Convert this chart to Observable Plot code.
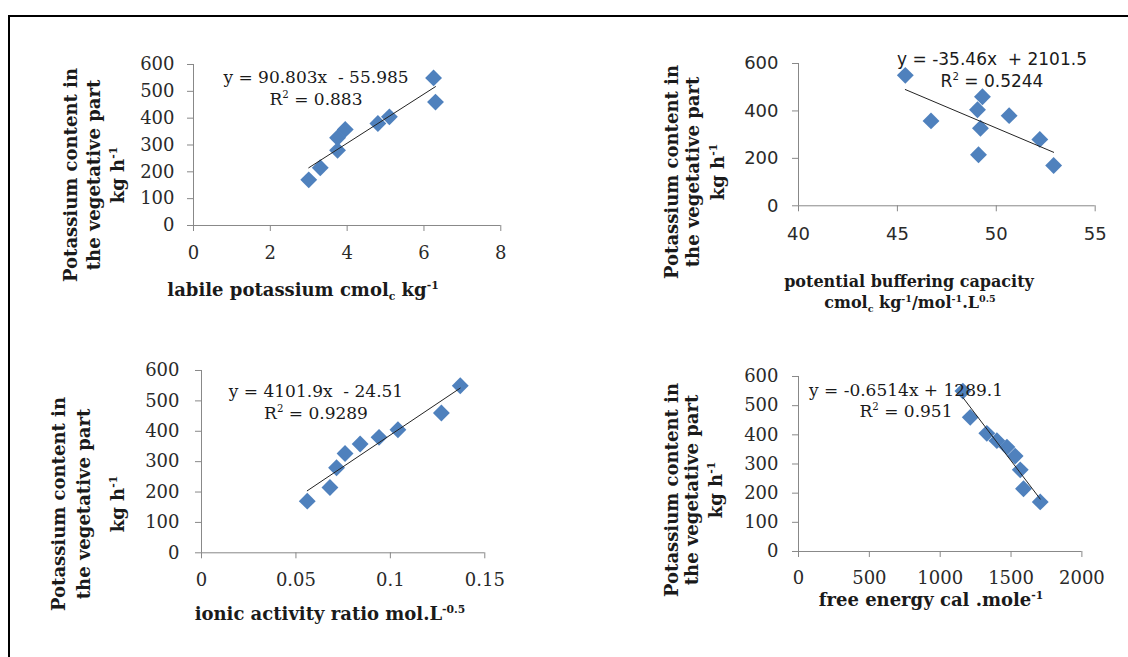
<!DOCTYPE html>
<html><head><meta charset="utf-8">
<script src="https://cdn.jsdelivr.net/npm/d3@7"></script>
<script src="https://cdn.jsdelivr.net/npm/@observablehq/plot@0.6"></script>
<style>
body{margin:0;background:#fff;}
#page{position:relative;width:1128px;height:657px;overflow:hidden;background:#fff;}
#frame{position:absolute;left:8px;top:15px;width:2000px;height:2000px;border-left:2px solid #000;border-top:2px solid #000;}
#overlay{position:absolute;left:0;top:0;pointer-events:none;}
</style></head><body><div id="page"><div id="frame"></div></div>
<script>
// Potassium content in the vegetative part (kg h-1), same 9 samples in every panel
const potassium = [550, 460, 405, 380, 358, 327, 280, 215, 170];
// Panel predictors
const labileK = [6.25, 6.3, 5.1, 4.8, 3.95, 3.75, 3.75, 3.3, 3.0];
const bufferCap = [45.4, 49.3, 49.05, 50.65, 46.7, 49.2, 52.2, 49.1, 52.9];
const activityRatio = [0.137, 0.127, 0.104, 0.094, 0.084, 0.076, 0.0715, 0.068, 0.056];
const freeEnergy = [1160, 1212, 1329, 1400, 1471, 1529, 1565, 1588, 1706];
// Axis ticks
const yTicks100 = [0, 100, 200, 300, 400, 500, 600];
const yTicks200 = [0, 200, 400, 600];
const xTicks1 = [0, 2, 4, 6, 8];
const xTicks2 = [40, 45, 50, 55];
const xTicks3 = [0, 0.05, 0.1, 0.15];
const xTicks4 = [0, 500, 1000, 1500, 2000];
// Trendline equations
const equations = ["y = 90.803x  - 55.985", "y = -35.46x  + 2101.5", "y = 4101.9x  - 24.51", "y = -0.6514x + 1289.1"];
const r2 = ["0.883", "0.5244", "0.9289", "0.951"];

const page = document.getElementById("page");
const SERIF = "DejaVu Serif", SANS = "DejaVu Sans";

function panel({xs, xDomain, xTicks, yTicks, frame, font, padX, padY}) {
  const [x0, x1, yT, yB] = frame;
  const ml = 80, mr = 30, mt = 20, mb = 50;
  const data = xs.map((x, i) => ({x, y: potassium[i]}));
  const chart = Plot.plot({
    width: (x1 - x0) + ml + mr, height: (yB - yT) + mt + mb,
    marginLeft: ml, marginRight: mr, marginTop: mt, marginBottom: mb,
    x: {domain: xDomain, label: null},
    y: {domain: [0, 600], label: null},
    style: {fontFamily: font, fontSize: "18px", background: "transparent", overflow: "visible"},
    marks: [
      Plot.axisX({ticks: xTicks, tickSize: 6, tickPadding: padX, stroke: "#888", fill: "#2a2a2a", tickFormat: d => String(d), label: null, fontSize: 18}),
      Plot.axisY({ticks: yTicks, tickSize: 6, tickPadding: padY, stroke: "#888", fill: "#2a2a2a", tickFormat: d => String(d), label: null, fontSize: 18}),
      Plot.ruleY([0], {stroke: "#888"}),
      Plot.ruleX([xDomain[0]], {stroke: "#888"}),
      Plot.dot(data, {x: "x", y: "y", symbol: "diamond2", r: 7.6, fill: "#4F81BD"}),
      Plot.linearRegressionY(data, {x: "x", y: "y", stroke: "#222", strokeWidth: 1, ci: 0})
    ]
  });
  chart.style.position = "absolute";
  chart.style.left = (x0 - ml) + "px";
  chart.style.top = (yT - mt) + "px";
  page.appendChild(chart);
}

panel({xs: labileK, xDomain: [0, 8], xTicks: xTicks1, yTicks: yTicks100, frame: [192.7, 500, 64, 225], font: SERIF, padX: 15, padY: 13});
panel({xs: bufferCap, xDomain: [40, 55], xTicks: xTicks2, yTicks: yTicks200, frame: [798.3, 1095, 62.7, 205], font: SANS, padX: 15, padY: 14});
panel({xs: activityRatio, xDomain: [0, 0.15], xTicks: xTicks3, yTicks: yTicks100, frame: [201, 484.3, 370, 552.3], font: SERIF, padX: 14, padY: 16});
panel({xs: freeEnergy, xDomain: [0, 2000], xTicks: xTicks4, yTicks: yTicks100, frame: [798.3, 1081.7, 375.7, 550.7], font: SERIF, padX: 14, padY: 14});

// Text overlay
const svg = d3.select(page).append("svg").attr("id", "overlay").attr("width", 1128).attr("height", 657);
function txt(segs, {x, y, size = 18, weight = "bold", family = SERIF, rotate = false, anchor = "middle", fill = "#1a1a1a"}) {
  const t = svg.append("text")
    .attr("transform", `translate(${x},${y})` + (rotate ? " rotate(-90)" : ""))
    .attr("text-anchor", anchor)
    .attr("font-family", family).attr("font-weight", weight).attr("font-size", size)
    .attr("fill", fill).style("white-space", "pre");
  let shift = 0;
  for (const s of segs) {
    const seg = typeof s === "string" ? {t: s} : s;
    let target = 0, fs = size;
    if (seg.sup) { target = -0.4 * size; fs = 0.6 * size; }
    if (seg.sub) { target = 0.22 * size; fs = 0.6 * size; }
    const text = seg.sup || seg.sub || seg.t;
    t.append("tspan").attr("dy", target - shift).attr("font-size", fs).text(text);
    shift = target;
  }
}
const yTitle = (bx, cy) => {
  txt(["Potassium content in"], {x: bx[0], y: cy, rotate: true});
  txt(["the vegetative part"], {x: bx[1], y: cy, rotate: true});
  txt(["kg h", {sup: "-1"}], {x: bx[2], y: cy, rotate: true});
};
yTitle([77, 100, 124], 175);
yTitle([678, 699, 724], 172);
yTitle([65, 90, 124], 504);
yTitle([678, 698, 722], 490);

txt(["labile potassium cmol", {sub: "c"}, " kg", {sup: "-1"}], {x: 303, y: 296});
txt(["potential buffering capacity"], {x: 909, y: 287, size: 16});
txt(["cmol", {sub: "c"}, " kg", {sup: "-1"}, "/mol", {sup: "-1"}, ".L", {sup: "0.5"}], {x: 910, y: 308, size: 16});
txt(["ionic activity ratio mol.L", {sup: "-0.5"}], {x: 330, y: 620});
txt(["free energy cal .mole", {sup: "-1"}], {x: 931, y: 606});

const eqPos = [[316, 83, 105, SERIF], [992, 65, 87, SANS], [316, 397, 419, SERIF], [906, 396, 417, SERIF]];
eqPos.forEach(([cx, b1, b2, fam], i) => {
  txt([equations[i]], {x: cx, y: b1, size: 17, weight: "normal", family: fam});
  txt(["R", {sup: "2"}, " = " + r2[i]], {x: cx, y: b2, size: 17, weight: "normal", family: fam});
});
</script></body></html>
